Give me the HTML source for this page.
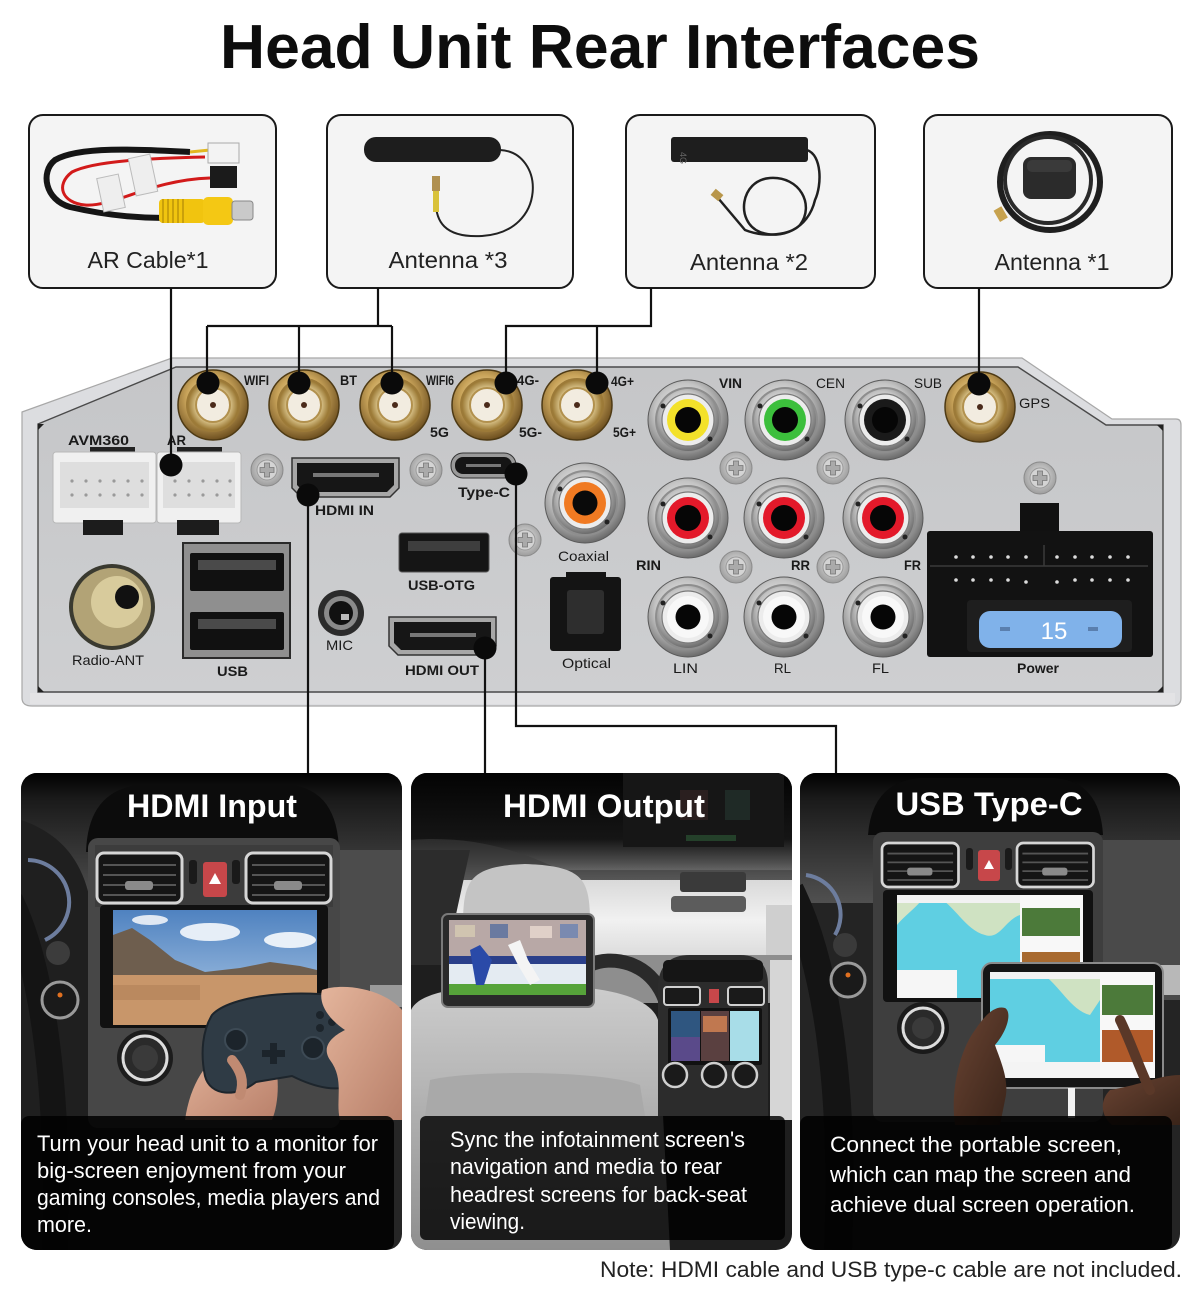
<!DOCTYPE html>
<html><head><meta charset="utf-8"><title>Head Unit Rear Interfaces</title>
<style>
html,body{margin:0;padding:0;background:#fff;}
svg{display:block;}
text{font-family:"Liberation Sans",Arial,sans-serif;}
.lb{font-size:14px;font-weight:bold;fill:#1a1a1a;}
.lr{font-size:14px;font-weight:normal;fill:#1a1a1a;}
.bx{font-size:23px;fill:#222;}
.ct{font-size:32px;font-weight:bold;fill:#fff;}
.tx{font-size:22px;fill:#fff;}
</style></head>
<body>
<svg width="1200" height="1303" viewBox="0 0 1200 1303" xmlns="http://www.w3.org/2000/svg">
<defs>
  <radialGradient id="gold" cx="0.45" cy="0.4" r="0.6">
    <stop offset="0" stop-color="#f6e7b4"/><stop offset="0.55" stop-color="#c9a45a"/><stop offset="1" stop-color="#6e5020"/>
  </radialGradient>
  <radialGradient id="goldIn" cx="0.5" cy="0.5" r="0.5">
    <stop offset="0.6" stop-color="#e9d6a0"/><stop offset="1" stop-color="#9c7a36"/>
  </radialGradient>
  <radialGradient id="chrome" cx="0.45" cy="0.4" r="0.6">
    <stop offset="0" stop-color="#fbfbfb"/><stop offset="0.6" stop-color="#c4c4c4"/><stop offset="1" stop-color="#6c6c6c"/>
  </radialGradient>
  <radialGradient id="screw" cx="0.5" cy="0.45" r="0.55">
    <stop offset="0" stop-color="#e6e6e6"/><stop offset="1" stop-color="#9d9d9d"/>
  </radialGradient>
  <linearGradient id="face" x1="0" y1="0" x2="0" y2="1">
    <stop offset="0" stop-color="#c5c6c8"/><stop offset="1" stop-color="#cecfd1"/>
  </linearGradient>
  <linearGradient id="dashTop" x1="0" y1="0" x2="0" y2="1">
    <stop offset="0" stop-color="#000"/><stop offset="0.2" stop-color="#1a1a1a"/><stop offset="1" stop-color="#505050"/>
  </linearGradient>
  <linearGradient id="sky" x1="0" y1="0" x2="0" y2="1">
    <stop offset="0" stop-color="#4f82c0"/><stop offset="1" stop-color="#b3cde8"/>
  </linearGradient>
  <linearGradient id="c2top" x1="0" y1="0" x2="0" y2="1">
    <stop offset="0" stop-color="#030303"/><stop offset="0.6" stop-color="#151515"/><stop offset="0.82" stop-color="#505050"/><stop offset="1" stop-color="#8a8a8a"/>
  </linearGradient>
  <linearGradient id="wind" x1="0" y1="0" x2="0" y2="1">
    <stop offset="0" stop-color="#d9d9d9"/><stop offset="0.5" stop-color="#f1f1f1"/><stop offset="1" stop-color="#dadada"/>
  </linearGradient>
  <linearGradient id="seat" x1="0" y1="0" x2="0" y2="1">
    <stop offset="0" stop-color="#cdcdcd"/><stop offset="1" stop-color="#8f8f8f"/>
  </linearGradient>
  <linearGradient id="hand" x1="0" y1="0" x2="1" y2="1">
    <stop offset="0" stop-color="#e4b59c"/><stop offset="1" stop-color="#b9806a"/>
  </linearGradient>
  <linearGradient id="handD" x1="0" y1="0" x2="1" y2="1">
    <stop offset="0" stop-color="#6a4433"/><stop offset="1" stop-color="#3a2419"/>
  </linearGradient>

  <g id="sma">
    <circle r="35" fill="url(#gold)" stroke="#4e3a14" stroke-width="1.5"/>
    <circle r="27" fill="#9c7a38"/>
    <circle r="25" fill="url(#goldIn)"/>
    <circle r="17" fill="#f2ece0" stroke="#b2914e" stroke-width="2"/>
    <circle r="3" fill="#4a2a1a"/>
  </g>
  <g id="rca">
    <circle r="40" fill="url(#chrome)" stroke="#5a5a5a" stroke-width="1"/>
    <circle r="33" fill="#8e8e8e"/>
    <circle r="31" fill="url(#chrome)"/>
    <circle r="26" fill="#ececec" stroke="#7a7a7a" stroke-width="1.2"/>
    <circle cx="-25" cy="-14" r="2.5" fill="#222"/>
    <circle cx="22" cy="19" r="2.5" fill="#222"/>
  </g>
  <g id="scr">
    <circle r="16" fill="url(#screw)" stroke="#8a8a8a" stroke-width="1"/>
    <circle r="10" fill="#d4d4d4" stroke="#9a9a9a"/>
    <path d="M-7,-2.5 H-2.5 V-7 H2.5 V-2.5 H7 V2.5 H2.5 V7 H-2.5 V2.5 H-7 Z" fill="#aaa" stroke="#777" stroke-width="0.8"/>
  </g>
  <g id="vent">
    <rect x="0" y="0" width="85" height="50" rx="7" fill="#151515" stroke="#d6d6d6" stroke-width="3"/>
    <path d="M6,12 H79 M6,22 H79 M6,32 H79 M6,42 H79" stroke="#555" stroke-width="2"/>
    <rect x="28" y="28" width="28" height="9" rx="3" fill="#8a8a8a"/>
  </g>

  <clipPath id="c1"><rect x="21" y="773" width="381" height="477" rx="16"/></clipPath>
  <clipPath id="c2"><rect x="411" y="773" width="381" height="477" rx="16"/></clipPath>
  <clipPath id="c3"><rect x="800" y="773" width="380" height="477" rx="16"/></clipPath>
</defs>

<!-- TITLE -->
<text x="600" y="68" text-anchor="middle" font-size="62" font-weight="bold" fill="#0d0d0d" textLength="760" lengthAdjust="spacingAndGlyphs">Head Unit Rear Interfaces</text>

<!-- TOP BOXES -->
<rect x="29" y="115" width="247" height="173" rx="14" fill="#f4f4f4" stroke="#1a1a1a" stroke-width="2"/>
<rect x="327" y="115" width="246" height="173" rx="14" fill="#f4f4f4" stroke="#1a1a1a" stroke-width="2"/>
<rect x="626" y="115" width="249" height="173" rx="14" fill="#f4f4f4" stroke="#1a1a1a" stroke-width="2"/>
<rect x="924" y="115" width="248" height="173" rx="14" fill="#f4f4f4" stroke="#1a1a1a" stroke-width="2"/>

<!-- AR cable image -->
<g>
  <path d="M190,152 C150,150 80,145 55,160 C40,172 45,200 70,207 C100,214 130,218 165,218" fill="none" stroke="#151515" stroke-width="6"/>
  <path d="M205,157 C160,158 95,160 72,172 C55,185 62,203 85,205 C115,207 150,180 210,178" fill="none" stroke="#d21a1a" stroke-width="3"/>
  <path d="M190,152 L210,150" stroke="#e2b820" stroke-width="3"/>
  <rect x="208" y="143" width="31" height="20" fill="#f3f3f3" stroke="#aaa"/>
  <rect x="210" y="166" width="27" height="22" fill="#1b1b1b"/>
  <rect x="100" y="176" width="22" height="34" fill="#eee" stroke="#bbb" transform="rotate(-12 111 193)"/>
  <rect x="132" y="156" width="22" height="38" fill="#eee" stroke="#bbb" transform="rotate(-12 143 175)"/>
  <rect x="159" y="199" width="46" height="24" rx="4" fill="#f1c40f"/>
  <path d="M163,199 V223 M168,199 V223 M173,199 V223 M178,199 V223 M183,199 V223" stroke="#caa00a" stroke-width="2"/>
  <rect x="203" y="197" width="30" height="28" rx="5" fill="#f4c814"/>
  <rect x="232" y="201" width="21" height="19" rx="3" fill="#c9c9c9" stroke="#888"/>
</g>
<text class="bx" x="148" y="268" text-anchor="middle" textLength="121" lengthAdjust="spacingAndGlyphs">AR Cable*1</text>

<!-- Antenna 3 image -->
<g>
  <rect x="364" y="137" width="137" height="25" rx="12" fill="#1d1d1d"/>
  <path d="M500,150 C545,152 548,232 482,236 C445,238 434,222 436,196" fill="none" stroke="#222" stroke-width="2"/>
  <rect x="433" y="190" width="6" height="22" fill="#d9c23a"/>
  <rect x="432" y="176" width="8" height="15" fill="#b09050"/>
</g>
<text class="bx" x="448" y="268" text-anchor="middle" textLength="119" lengthAdjust="spacingAndGlyphs">Antenna *3</text>

<!-- Antenna 2 image -->
<g>
  <rect x="671" y="137" width="137" height="25" rx="3" fill="#1e1e1e"/>
  <text x="684" y="156" font-size="9" fill="#666" transform="rotate(90 684 152)">4G</text>
  <path d="M807,150 C822,155 822,185 815,200 C808,230 780,240 760,232 C735,222 740,180 770,178 C800,176 815,205 800,225 C790,235 765,238 745,230 L718,198" fill="none" stroke="#202020" stroke-width="2.5"/>
  <rect x="712" y="191" width="10" height="8" fill="#b8964a" transform="rotate(40 717 195)"/>
</g>
<text class="bx" x="749" y="270" text-anchor="middle" textLength="118" lengthAdjust="spacingAndGlyphs">Antenna *2</text>

<!-- Antenna 1 (GPS) image -->
<g>
  <ellipse cx="1050" cy="182" rx="50" ry="48" fill="none" stroke="#1f1f1f" stroke-width="6"/>
  <ellipse cx="1048" cy="180" rx="43" ry="43" fill="none" stroke="#2a2a2a" stroke-width="4"/>
  <rect x="1023" y="157" width="53" height="42" rx="8" fill="#2b2b2b"/>
  <rect x="1027" y="160" width="45" height="12" rx="5" fill="#3a3a3a"/>
  <rect x="996" y="208" width="9" height="13" fill="#c7a24e" transform="rotate(-30 1000 214)"/>
</g>
<text class="bx" x="1052" y="270" text-anchor="middle" textLength="115" lengthAdjust="spacingAndGlyphs">Antenna *1</text>

<!-- PANEL -->
<path d="M22,412 L172,358 L1022,358 L1112,419 L1176,419 Q1181,419 1181,425 L1181,698 Q1181,706 1172,706 L32,706 Q22,706 22,698 Z" fill="#dcdde0" stroke="#a8a8a8" stroke-width="1.2"/>
<path d="M38,424 L176,367 L1018,367 L1106,425 L1163,425 L1163,692 L38,692 Z" fill="url(#face)" stroke="#4a4a4a" stroke-width="1.4"/>
<rect x="30" y="693" width="1145" height="11" fill="#e3e3e5"/>
<path d="M38,424 l6,0 l-6,6 Z M38,692 l6,0 l-6,-6 Z M1163,425 l-6,0 l6,6 Z M1163,692 l-6,0 l6,-6 Z" fill="#222"/>

<!-- SMA gold connectors -->
<use href="#sma" x="213" y="405"/>
<use href="#sma" x="304" y="405"/>
<use href="#sma" x="395" y="405"/>
<use href="#sma" x="487" y="405"/>
<use href="#sma" x="577" y="405"/>
<use href="#sma" x="980" y="407"/>

<!-- AVM360 / AR connectors -->
<g>
  <rect x="90" y="447" width="45" height="7" fill="#222"/>
  <rect x="177" y="447" width="45" height="7" fill="#222"/>
  <rect x="53" y="452" width="103" height="71" rx="3" fill="#f0f0f0" stroke="#b8b8b8"/>
  <rect x="60" y="462" width="89" height="46" fill="#dedede"/>
  <rect x="157" y="452" width="84" height="71" rx="3" fill="#f0f0f0" stroke="#b8b8b8"/>
  <rect x="163" y="462" width="72" height="46" fill="#dedede"/>
  <g fill="#9a9a9a">
    <circle cx="72" cy="481" r="1.6"/><circle cx="86" cy="481" r="1.6"/><circle cx="100" cy="481" r="1.6"/><circle cx="114" cy="481" r="1.6"/><circle cx="128" cy="481" r="1.6"/><circle cx="142" cy="481" r="1.6"/>
    <circle cx="72" cy="495" r="1.6"/><circle cx="86" cy="495" r="1.6"/><circle cx="100" cy="495" r="1.6"/><circle cx="114" cy="495" r="1.6"/><circle cx="128" cy="495" r="1.6"/><circle cx="142" cy="495" r="1.6"/>
    <circle cx="175" cy="481" r="1.6"/><circle cx="189" cy="481" r="1.6"/><circle cx="203" cy="481" r="1.6"/><circle cx="217" cy="481" r="1.6"/><circle cx="230" cy="481" r="1.6"/>
    <circle cx="175" cy="495" r="1.6"/><circle cx="189" cy="495" r="1.6"/><circle cx="203" cy="495" r="1.6"/><circle cx="217" cy="495" r="1.6"/><circle cx="230" cy="495" r="1.6"/>
  </g>
  <rect x="83" y="520" width="40" height="15" fill="#1c1c1c"/>
  <rect x="177" y="520" width="42" height="15" fill="#1c1c1c"/>
</g>

<!-- Radio-ANT -->
<circle cx="112" cy="607" r="43" fill="#3a3a30"/>
<circle cx="112" cy="607" r="39" fill="#b2a376"/>
<circle cx="117" cy="602" r="26" fill="#d8cb9c"/>
<circle cx="127" cy="597" r="12" fill="#111"/>

<!-- USB double -->
<rect x="183" y="543" width="107" height="115" fill="#8f8f8f" stroke="#2a2a2a" stroke-width="2"/>
<rect x="190" y="553" width="94" height="38" rx="2" fill="#111"/>
<rect x="198" y="560" width="78" height="10" fill="#4a4a4a"/>
<rect x="190" y="612" width="94" height="38" rx="2" fill="#111"/>
<rect x="198" y="619" width="78" height="10" fill="#4a4a4a"/>

<!-- HDMI IN -->
<path d="M292,458 H399 V488 L390,497 H301 L292,488 Z" fill="#a7a7a7" stroke="#333" stroke-width="1.5"/>
<path d="M297,463 H394 V485 L387,492 H304 L297,485 Z" fill="#161616"/>
<rect x="313" y="473" width="66" height="4" fill="#777"/>

<!-- Type-C -->
<rect x="451" y="453" width="65" height="25" rx="12" fill="#9a9a9a" stroke="#333"/>
<rect x="455" y="457" width="57" height="17" rx="8" fill="#151515"/>
<rect x="466" y="464" width="35" height="3" fill="#777"/>

<!-- USB-OTG -->
<rect x="399" y="533" width="90" height="39" rx="3" fill="#151515" stroke="#555"/>
<rect x="408" y="541" width="72" height="10" fill="#3e3e3e"/>

<!-- MIC -->
<circle cx="341" cy="613" r="23" fill="#2b2b2b"/>
<circle cx="341" cy="613" r="17" fill="#8a8a8a"/>
<circle cx="341" cy="613" r="12" fill="#111"/>
<rect x="341" y="614" width="8" height="6" fill="#bbb"/>

<!-- HDMI OUT -->
<path d="M389,617 H496 V646 L487,655 H398 L389,646 Z" fill="#a7a7a7" stroke="#333" stroke-width="1.5"/>
<path d="M394,622 H491 V643 L484,650 H401 L394,643 Z" fill="#161616"/>
<rect x="410" y="633" width="66" height="4" fill="#777"/>

<!-- Coaxial -->
<use href="#rca" x="585" y="503"/>
<circle cx="585" cy="503" r="21" fill="#f07a22"/>
<circle cx="585" cy="503" r="12.5" fill="#0a0a0a"/>

<!-- Optical -->
<rect x="550" y="577" width="71" height="74" rx="3" fill="#141414"/>
<rect x="567" y="590" width="37" height="44" rx="3" fill="#2e2e2e"/>
<rect x="566" y="572" width="40" height="8" fill="#141414"/>

<!-- RCA jacks -->
<use href="#rca" x="688" y="420"/><circle cx="688" cy="420" r="21" fill="#f3e12a"/><circle cx="688" cy="420" r="13" fill="#060606"/>
<use href="#rca" x="785" y="420"/><circle cx="785" cy="420" r="21" fill="#3cbf3c"/><circle cx="785" cy="420" r="13" fill="#060606"/>
<use href="#rca" x="885" y="420"/><circle cx="885" cy="420" r="21" fill="#1a1a1a"/><circle cx="885" cy="420" r="13" fill="#060606"/>
<use href="#rca" x="688" y="518"/><circle cx="688" cy="518" r="21" fill="#e3192a"/><circle cx="688" cy="518" r="13" fill="#060606"/>
<use href="#rca" x="784" y="518"/><circle cx="784" cy="518" r="21" fill="#e3192a"/><circle cx="784" cy="518" r="13" fill="#060606"/>
<use href="#rca" x="883" y="518"/><circle cx="883" cy="518" r="21" fill="#e3192a"/><circle cx="883" cy="518" r="13" fill="#060606"/>
<use href="#rca" x="688" y="617"/><circle cx="688" cy="617" r="21" fill="#f8f8f8"/><circle cx="688" cy="617" r="12.5" fill="#060606"/>
<use href="#rca" x="784" y="617"/><circle cx="784" cy="617" r="21" fill="#f8f8f8"/><circle cx="784" cy="617" r="12.5" fill="#060606"/>
<use href="#rca" x="883" y="617"/><circle cx="883" cy="617" r="21" fill="#f8f8f8"/><circle cx="883" cy="617" r="12.5" fill="#060606"/>

<!-- Screws -->
<use href="#scr" x="267" y="470"/>
<use href="#scr" x="426" y="470"/>
<use href="#scr" x="525" y="540"/>
<use href="#scr" x="736" y="468"/>
<use href="#scr" x="833" y="468"/>
<use href="#scr" x="1040" y="478"/>
<use href="#scr" x="736" y="567"/>
<use href="#scr" x="833" y="567"/>

<!-- Power connector -->
<rect x="1020" y="503" width="39" height="30" fill="#111"/>
<rect x="927" y="531" width="226" height="126" rx="3" fill="#121212"/>
<path d="M930,566 H1148 M1044,545 V566" stroke="#3a3a3a" stroke-width="1.5"/>
<g fill="#dcdcdc">
  <circle cx="956" cy="557" r="1.8"/><circle cx="973" cy="557" r="1.8"/><circle cx="991" cy="557" r="1.8"/><circle cx="1008" cy="557" r="1.8"/><circle cx="1026" cy="557" r="1.8"/>
  <circle cx="1057" cy="557" r="1.8"/><circle cx="1075" cy="557" r="1.8"/><circle cx="1092" cy="557" r="1.8"/><circle cx="1110" cy="557" r="1.8"/><circle cx="1128" cy="557" r="1.8"/>
  <circle cx="956" cy="580" r="1.8"/><circle cx="973" cy="580" r="1.8"/><circle cx="991" cy="580" r="1.8"/><circle cx="1008" cy="580" r="1.8"/><circle cx="1026" cy="582" r="1.8"/>
  <circle cx="1057" cy="582" r="1.8"/><circle cx="1075" cy="580" r="1.8"/><circle cx="1092" cy="580" r="1.8"/><circle cx="1110" cy="580" r="1.8"/><circle cx="1128" cy="580" r="1.8"/>
</g>
<rect x="967" y="600" width="165" height="52" rx="4" fill="#1e1e1e"/>
<rect x="979" y="611" width="143" height="37" rx="11" fill="#80b2ea"/>
<rect x="1000" y="627" width="10" height="4" fill="#5a7fae"/>
<rect x="1088" y="627" width="10" height="4" fill="#5a7fae"/>
<text x="1054" y="639" text-anchor="middle" font-size="24" fill="#fff" font-family="Liberation Mono, monospace">15</text>

<!-- Panel labels -->
<text class="lb" x="244" y="385" textLength="25" lengthAdjust="spacingAndGlyphs">WIFI</text>
<text class="lb" x="340" y="385" textLength="17" lengthAdjust="spacingAndGlyphs">BT</text>
<text class="lb" x="426" y="385" textLength="28" lengthAdjust="spacingAndGlyphs">WIFI6</text>
<text class="lb" x="430" y="437" textLength="19" lengthAdjust="spacingAndGlyphs">5G</text>
<text class="lb" x="517" y="385" textLength="22" lengthAdjust="spacingAndGlyphs">4G-</text>
<text class="lb" x="519" y="437" textLength="23" lengthAdjust="spacingAndGlyphs">5G-</text>
<text class="lb" x="611" y="386" textLength="23" lengthAdjust="spacingAndGlyphs">4G+</text>
<text class="lb" x="613" y="437" textLength="23" lengthAdjust="spacingAndGlyphs">5G+</text>
<text class="lb" x="68" y="445" textLength="61" lengthAdjust="spacingAndGlyphs">AVM360</text>
<text class="lb" x="167" y="445" textLength="19" lengthAdjust="spacingAndGlyphs">AR</text>
<text class="lb" x="315" y="515" textLength="59" lengthAdjust="spacingAndGlyphs">HDMI  IN</text>
<text class="lb" x="458" y="497" textLength="52" lengthAdjust="spacingAndGlyphs">Type-C</text>
<text class="lb" x="408" y="590" textLength="67" lengthAdjust="spacingAndGlyphs">USB-OTG</text>
<text class="lr" x="326" y="650" textLength="27" lengthAdjust="spacingAndGlyphs">MIC</text>
<text class="lr" x="72" y="665" textLength="72" lengthAdjust="spacingAndGlyphs">Radio-ANT</text>
<text class="lb" x="217" y="676" textLength="31" lengthAdjust="spacingAndGlyphs">USB</text>
<text class="lb" x="405" y="675" textLength="74" lengthAdjust="spacingAndGlyphs">HDMI  OUT</text>
<text class="lr" x="558" y="561" textLength="51" lengthAdjust="spacingAndGlyphs">Coaxial</text>
<text class="lr" x="562" y="668" textLength="49" lengthAdjust="spacingAndGlyphs">Optical</text>
<text class="lb" x="719" y="388" textLength="23" lengthAdjust="spacingAndGlyphs">VIN</text>
<text class="lr" x="816" y="388" textLength="29" lengthAdjust="spacingAndGlyphs">CEN</text>
<text class="lr" x="914" y="388" textLength="28" lengthAdjust="spacingAndGlyphs">SUB</text>
<text class="lr" x="1019" y="408" textLength="31" lengthAdjust="spacingAndGlyphs">GPS</text>
<text class="lb" x="636" y="570" textLength="25" lengthAdjust="spacingAndGlyphs">RIN</text>
<text class="lb" x="791" y="570" textLength="19" lengthAdjust="spacingAndGlyphs">RR</text>
<text class="lb" x="904" y="570" textLength="17" lengthAdjust="spacingAndGlyphs">FR</text>
<text class="lr" x="673" y="673" textLength="25" lengthAdjust="spacingAndGlyphs">LIN</text>
<text class="lr" x="774" y="673" textLength="17" lengthAdjust="spacingAndGlyphs">RL</text>
<text class="lr" x="872" y="673" textLength="17" lengthAdjust="spacingAndGlyphs">FL</text>
<text class="lb" x="1017" y="673" textLength="42" lengthAdjust="spacingAndGlyphs">Power</text>

<!-- CONNECTOR LINES -->
<g fill="none" stroke="#111" stroke-width="2.2">
  <path d="M171,288 V465"/>
  <path d="M378,288 V326 M207,326 H392 M207,326 V383 M299,326 V383 M392,326 V383"/>
  <path d="M651,288 V326 H506 V383 M597,326 V383"/>
  <path d="M979,288 V384"/>
  <path d="M308,495 V773"/>
  <path d="M485,648 V773"/>
  <path d="M516,474 V726 H836 V773"/>
</g>
<g fill="#0a0a0a">
  <circle cx="208" cy="383" r="11.5"/>
  <circle cx="299" cy="383" r="11.5"/>
  <circle cx="392" cy="383" r="11.5"/>
  <circle cx="506" cy="383" r="11.5"/>
  <circle cx="597" cy="383" r="11.5"/>
  <circle cx="979" cy="384" r="11.5"/>
  <circle cx="171" cy="465" r="11.5"/>
  <circle cx="308" cy="495" r="11.5"/>
  <circle cx="516" cy="474" r="11.5"/>
  <circle cx="485" cy="648" r="11.5"/>
</g>

<!-- CARD 1: HDMI Input -->
<g clip-path="url(#c1)">
  <rect x="21" y="773" width="381" height="477" fill="#262626"/>
  <rect x="21" y="773" width="381" height="130" fill="url(#dashTop)"/>
  <rect x="335" y="850" width="67" height="180" fill="#4c4c4c"/>
  <rect x="370" y="985" width="32" height="22" fill="#9a9a9a"/>
  <path d="M21,820 C50,830 80,850 90,900 L90,1250 L21,1250 Z" fill="#1f1f1f"/>
  <path d="M86,852 Q88,790 140,785 L290,785 Q338,790 339,852 Z" fill="#0c0c0c"/>
  <rect x="88" y="838" width="252" height="290" rx="10" fill="#474747"/>
  <rect x="95" y="845" width="238" height="62" fill="#3c3c3c"/>
  <use href="#vent" x="97" y="853"/>
  <use href="#vent" x="246" y="853"/>
  <rect x="189" y="860" width="8" height="24" rx="3" fill="#1a1a1a"/>
  <rect x="232" y="860" width="8" height="24" rx="3" fill="#1a1a1a"/>
  <rect x="203" y="862" width="24" height="35" rx="3" fill="#c7474a"/>
  <path d="M215,873 L221,884 H209 Z" fill="#fff"/>
  <rect x="100" y="905" width="228" height="123" rx="4" fill="#111"/>
  <rect x="113" y="910" width="204" height="115" fill="url(#sky)"/>
  <ellipse cx="210" cy="932" rx="30" ry="9" fill="#e6eef7"/>
  <ellipse cx="290" cy="940" rx="26" ry="8" fill="#e9f0f8"/>
  <ellipse cx="150" cy="920" rx="18" ry="5" fill="#dfe8f3"/>
  <path d="M113,985 L113,935 L132,928 L150,940 L175,960 L205,972 L240,968 L270,962 L300,966 L317,970 L317,990 Z" fill="#6e5e4e"/>
  <rect x="113" y="975" width="204" height="50" fill="#c8966a"/>
  <path d="M113,985 H200 V1000 H113 Z" fill="#b08058" opacity="0.6"/>
  <circle cx="145" cy="1058" r="28" fill="#1c1c1c"/>
  <circle cx="145" cy="1058" r="22" fill="#2a2a2a" stroke="#dcdcdc" stroke-width="3"/>
  <circle cx="145" cy="1058" r="13" fill="#3a3a3a"/>
  <path d="M28,860 A42,42 0 0 1 45,940" fill="none" stroke="#6d7d9e" stroke-width="4"/>
  <path d="M10,900 C40,960 60,1080 55,1250" fill="none" stroke="#141414" stroke-width="26"/>
  <circle cx="58" cy="953" r="12" fill="#3c3c3c"/>
  <circle cx="60" cy="1000" r="18" fill="#1a1a1a" stroke="#9a9a9a" stroke-width="3"/>
  <circle cx="60" cy="995" r="2.5" fill="#e07020"/>
  <!-- hands + controller -->
  <path d="M185,1120 C190,1085 205,1060 235,1040 L270,1045 C280,1070 280,1100 272,1120 Z" fill="url(#hand)"/>
  <path d="M212,1015 C230,995 300,988 352,998 C368,1010 370,1060 357,1080 C342,1096 312,1086 292,1076 L256,1082 C236,1098 210,1096 205,1076 C200,1052 203,1030 212,1015 Z" fill="#2f3b45" stroke="#1d252c" stroke-width="2"/>
  <circle cx="236" cy="1040" r="11" fill="#1c242b" stroke="#3d4a55" stroke-width="2"/>
  <circle cx="313" cy="1048" r="11" fill="#1c242b" stroke="#3d4a55" stroke-width="2"/>
  <path d="M262,1050 h8 v-7 h7 v7 h8 v7 h-8 v7 h-7 v-7 h-8 Z" fill="#1c242b"/>
  <circle cx="320" cy="1015" r="4" fill="#1c242b"/><circle cx="332" cy="1022" r="4" fill="#1c242b"/><circle cx="320" cy="1028" r="4" fill="#1c242b"/>
  <path d="M322,990 C345,982 385,990 402,1010 L402,1120 L340,1120 C335,1100 345,1080 330,1060 C320,1045 335,1035 345,1030 C330,1020 318,1005 322,990 Z" fill="url(#hand)"/>
  <path d="M232,1060 C240,1070 245,1080 240,1095" stroke="#c08a72" stroke-width="10" fill="none" stroke-linecap="round"/>
  <rect x="21" y="1116" width="373" height="134" rx="8" fill="#000" opacity="0.85"/>
</g>
<text class="ct" x="212" y="817" text-anchor="middle" textLength="170" lengthAdjust="spacingAndGlyphs">HDMI Input</text>
<text class="tx" x="37" y="1151" textLength="341" lengthAdjust="spacingAndGlyphs">Turn your head unit to a monitor for</text>
<text class="tx" x="37" y="1178" textLength="309" lengthAdjust="spacingAndGlyphs">big-screen enjoyment from your</text>
<text class="tx" x="37" y="1205" textLength="343" lengthAdjust="spacingAndGlyphs">gaming consoles, media players and</text>
<text class="tx" x="37" y="1232" textLength="55" lengthAdjust="spacingAndGlyphs">more.</text>

<!-- CARD 2: HDMI Output -->
<g clip-path="url(#c2)">
  <rect x="411" y="773" width="381" height="477" fill="#1e1e1e"/>
  <rect x="411" y="773" width="381" height="110" fill="url(#c2top)"/>
  <rect x="623" y="773" width="161" height="74" fill="#161616"/>
  <rect x="680" y="790" width="28" height="30" fill="#2a1f1f"/>
  <rect x="725" y="790" width="25" height="30" fill="#1f2a26"/>
  <rect x="686" y="835" width="50" height="6" fill="#24402a"/>
  <path d="M411,840 C470,835 520,850 560,870 L792,870 L792,880 L411,880 Z" fill="#3a3a3a" opacity="0.6"/>
  <rect x="440" y="880" width="352" height="80" fill="url(#wind)"/>
  <path d="M411,850 L470,850 L445,965 L411,965 Z" fill="#2c2c2c"/>
  <rect x="680" y="872" width="66" height="20" rx="3" fill="#3a3a3a"/>
  <rect x="671" y="896" width="75" height="16" rx="4" fill="#5c5c5c"/>
  <rect x="766" y="905" width="26" height="55" fill="#cfcfcf"/>
  <path d="M463,925 C463,880 470,866 525,864 C585,866 590,880 590,925 Z" fill="#c4c4c4"/>
  <rect x="585" y="955" width="207" height="48" fill="#8e8e8e"/>
  <path d="M590,965 C610,955 650,960 665,1000" stroke="#2a2a2a" stroke-width="14" fill="none"/>
  <path d="M411,1010 C420,990 470,985 530,985 C600,985 650,995 658,1020 L670,1250 L411,1250 Z" fill="url(#seat)"/>
  <path d="M430,1080 C470,1070 600,1070 640,1085 L645,1116 L425,1116 Z" fill="#a9a9a9"/>
  <rect x="770" y="960" width="22" height="160" fill="#d6d6d6"/>
  <path d="M658,985 Q660,955 690,955 H740 Q768,955 768,985 L768,1116 H658 Z" fill="#2c2c2c"/>
  <rect x="663" y="960" width="100" height="22" rx="5" fill="#151515"/>
  <rect x="664" y="987" width="36" height="18" rx="3" fill="#1a1a1a" stroke="#d0d0d0" stroke-width="2"/>
  <rect x="728" y="987" width="36" height="18" rx="3" fill="#1a1a1a" stroke="#d0d0d0" stroke-width="2"/>
  <rect x="709" y="989" width="10" height="14" fill="#c7474a"/>
  <rect x="668" y="1008" width="94" height="57" rx="2" fill="#111"/>
  <rect x="671" y="1011" width="29" height="26" fill="#2f5680"/>
  <rect x="671" y="1037" width="29" height="24" fill="#5a4a8a"/>
  <rect x="701" y="1011" width="28" height="50" fill="#5a4040"/>
  <rect x="703" y="1016" width="24" height="16" fill="#c07850"/>
  <rect x="730" y="1011" width="29" height="50" fill="#a8dde8"/>
  <circle cx="675" cy="1075" r="12" fill="#1a1a1a" stroke="#cfcfcf" stroke-width="2.5"/>
  <circle cx="714" cy="1075" r="12" fill="#1a1a1a" stroke="#cfcfcf" stroke-width="2.5"/>
  <circle cx="745" cy="1075" r="12" fill="#1a1a1a" stroke="#cfcfcf" stroke-width="2.5"/>
  <!-- headrest screen -->
  <rect x="442" y="914" width="152" height="93" rx="6" fill="#2a2a2a" stroke="#7a7a7a" stroke-width="2"/>
  <rect x="449" y="920" width="137" height="75" fill="#9aa4b8"/>
  <rect x="449" y="920" width="137" height="38" fill="#b8a8a6"/>
  <rect x="455" y="925" width="20" height="12" fill="#d0c4b0"/><rect x="490" y="924" width="18" height="14" fill="#6a7aa0"/><rect x="530" y="926" width="22" height="12" fill="#e0d0c8"/><rect x="560" y="924" width="18" height="14" fill="#7a8ab0"/>
  <rect x="449" y="956" width="137" height="8" fill="#2a3f8a"/>
  <rect x="449" y="964" width="137" height="20" fill="#e4ebf2"/>
  <rect x="449" y="984" width="137" height="11" fill="#56a33a"/>
  <path d="M470,950 L480,945 L492,960 L484,985 L476,985 Z" fill="#2a4aa8"/>
  <path d="M508,945 L520,940 L528,960 L540,980 L530,985 L518,965 Z" fill="#f4f4f4"/>
  <rect x="420" y="1116" width="365" height="124" rx="6" fill="#000" opacity="0.82"/>
</g>
<text class="ct" x="604" y="817" text-anchor="middle" textLength="202" lengthAdjust="spacingAndGlyphs">HDMI Output</text>
<text class="tx" x="450" y="1147" textLength="295" lengthAdjust="spacingAndGlyphs">Sync the infotainment screen's</text>
<text class="tx" x="450" y="1174" textLength="272" lengthAdjust="spacingAndGlyphs">navigation and media to rear</text>
<text class="tx" x="450" y="1202" textLength="297" lengthAdjust="spacingAndGlyphs">headrest screens for back-seat</text>
<text class="tx" x="450" y="1229" textLength="75" lengthAdjust="spacingAndGlyphs">viewing.</text>

<!-- CARD 3: USB Type-C -->
<g clip-path="url(#c3)">
  <rect x="800" y="773" width="380" height="477" fill="#242424"/>
  <rect x="800" y="773" width="380" height="130" fill="url(#dashTop)"/>
  <rect x="1095" y="840" width="85" height="160" fill="#4a4a4a"/>
  <rect x="1150" y="965" width="30" height="30" fill="#b8b8b8"/>
  <path d="M868,835 Q872,782 920,778 L1055,778 Q1100,782 1103,835 Z" fill="#0b0b0b"/>
  <rect x="873" y="832" width="230" height="290" rx="10" fill="#3e3e3e"/>
  <path d="M806,875 A40,40 0 0 1 835,935" fill="none" stroke="#6d7d9e" stroke-width="4"/>
  <path d="M790,890 C825,960 845,1080 838,1250" fill="none" stroke="#141414" stroke-width="28"/>
  <circle cx="845" cy="945" r="12" fill="#3a3a3a"/>
  <circle cx="848" cy="980" r="17" fill="#1a1a1a" stroke="#9a9a9a" stroke-width="3"/>
  <circle cx="848" cy="975" r="2.5" fill="#e07020"/>
  <g transform="translate(882,843) scale(0.9,0.88)"><use href="#vent"/></g>
  <g transform="translate(1017,843) scale(0.9,0.88)"><use href="#vent"/></g>
  <rect x="966" y="848" width="7" height="22" rx="3" fill="#1a1a1a"/>
  <rect x="1005" y="848" width="7" height="22" rx="3" fill="#1a1a1a"/>
  <rect x="978" y="850" width="22" height="31" rx="3" fill="#c7474a"/>
  <path d="M989,860 L994,869 H984 Z" fill="#fff"/>
  <rect x="883" y="890" width="210" height="112" rx="4" fill="#111"/>
  <rect x="897" y="895" width="123" height="103" fill="#5fcfe2"/>
  <path d="M935,895 C955,905 965,930 985,935 C1000,940 1005,920 1020,915 L1020,895 Z" fill="#cfe2c2"/>
  <path d="M897,895 H925 C920,905 905,915 897,925 Z" fill="#d4e4c6"/>
  <rect x="897" y="895" width="123" height="8" fill="#f2f2f2"/>
  <rect x="897" y="970" width="60" height="28" fill="#f6f6f6"/>
  <rect x="1020" y="895" width="63" height="103" fill="#f8f8f8"/>
  <rect x="1022" y="908" width="58" height="28" fill="#4c7a3a"/>
  <rect x="1022" y="952" width="58" height="22" fill="#a86a30"/>
  <circle cx="923" cy="1028" r="26" fill="#1a1a1a"/>
  <circle cx="923" cy="1028" r="20" fill="#2a2a2a" stroke="#dcdcdc" stroke-width="3"/>
  <circle cx="923" cy="1028" r="11" fill="#3a3a3a"/>
  <!-- tablet -->
  <rect x="982" y="963" width="181" height="125" rx="10" fill="#151515" stroke="#8a8a8a" stroke-width="2"/>
  <rect x="990" y="972" width="165" height="106" fill="#5fcfe2"/>
  <path d="M1040,972 C1060,985 1070,1010 1090,1015 L1100,1000 L1100,972 Z" fill="#cfe2c2"/>
  <rect x="990" y="972" width="110" height="7" fill="#f2f2f2"/>
  <rect x="990" y="1045" width="55" height="33" fill="#f6f6f6"/>
  <rect x="990" y="1062" width="110" height="16" fill="#f4f4f4"/>
  <rect x="1100" y="972" width="55" height="106" fill="#f8f8f8"/>
  <rect x="1102" y="985" width="51" height="30" fill="#4c7a3a"/>
  <rect x="1102" y="1030" width="51" height="32" fill="#b05a2a"/>
  <rect x="1068" y="1088" width="7" height="30" fill="#f2f2f2"/>
  <path d="M955,1125 C950,1090 960,1050 975,1030 C985,1015 995,1005 1005,1008 C1012,1012 1008,1030 995,1045 C1000,1060 1010,1080 1005,1100 L1000,1125 Z" fill="url(#handD)"/>
  <path d="M1180,1075 C1160,1075 1140,1085 1110,1090 C1100,1100 1100,1115 1112,1125 L1180,1125 Z" fill="url(#handD)"/>
  <path d="M1120,1020 C1130,1040 1140,1070 1150,1090" stroke="#5a3828" stroke-width="10" fill="none" stroke-linecap="round"/>
  <rect x="800" y="1116" width="372" height="134" rx="8" fill="#000" opacity="0.85"/>
</g>
<text class="ct" x="989" y="815" text-anchor="middle" textLength="187" lengthAdjust="spacingAndGlyphs">USB Type-C</text>
<text class="tx" x="830" y="1152" textLength="292" lengthAdjust="spacingAndGlyphs">Connect the portable screen,</text>
<text class="tx" x="830" y="1182" textLength="301" lengthAdjust="spacingAndGlyphs">which can map the screen and</text>
<text class="tx" x="830" y="1212" textLength="305" lengthAdjust="spacingAndGlyphs">achieve dual screen operation.</text>

<!-- NOTE -->
<text x="600" y="1277" font-size="22" fill="#222" textLength="582" lengthAdjust="spacingAndGlyphs">Note: HDMI cable and USB type-c cable are not included.</text>
</svg>
</body></html>
